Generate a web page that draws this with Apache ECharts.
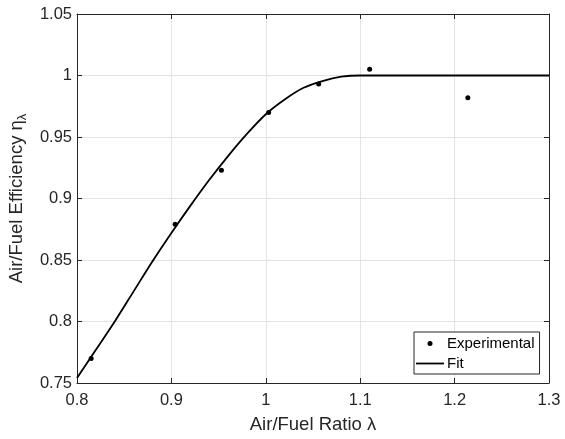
<!DOCTYPE html>
<html>
<head>
<meta charset="utf-8">
<script src="https://cdn.jsdelivr.net/npm/echarts@6/dist/echarts.min.js"></script>
<style>
html,body{margin:0;padding:0;background:#fff;}
#c{width:565px;height:439px;}
</style>
</head>
<body>
<div id="c"></div>
<script>
// Experimental data
const expX = [0.815, 0.904, 0.953, 1.003, 1.056, 1.110, 1.214];
const expY = [0.770, 0.879, 0.923, 0.970, 0.993, 1.005, 0.982];
// Fit curve
const fitX = [0.80, 0.82, 0.84, 0.86, 0.88, 0.90, 0.92, 0.94, 0.96, 0.98, 1.00, 1.02, 1.04, 1.06, 1.08, 1.10, 1.20, 1.30];
const fitY = [0.754, 0.777, 0.800, 0.8245, 0.849, 0.872, 0.894, 0.915, 0.9345, 0.9525, 0.9685, 0.9805, 0.990, 0.9955, 0.999, 1.000, 1.000, 1.000];
// Axis settings
const xMin = 0.8, xMax = 1.3, xStep = 0.1;
const yMin = 0.75, yMax = 1.05, yStep = 0.05;
const seriesNames = ['Experimental', 'Fit'];
const xTitle = 'Air/Fuel Ratio λ';
const yTitle = 'Air/Fuel Efficiency {g|η}{s|λ}';

const FONT = '"Liberation Sans", Arial, Helvetica, sans-serif';
const AX = '#262626';
const chart = echarts.init(document.getElementById('c'), null, {renderer: 'canvas'});

const baseAxis = {
  type: 'value',
  axisLine: {show: true, onZero: false, lineStyle: {color: AX, width: 1}},
  axisTick: {show: true, inside: true, length: 5, lineStyle: {color: AX, width: 1}},
};

const option = {
  backgroundColor: '#fff',
  animation: false,
  grid: {left: 77, right: 16, top: 14, bottom: 56, containLabel: false, outerBoundsMode: 'none'},
  legend: {
    orient: 'vertical',
    left: 414, top: 332,
    padding: [4, 5, 3, 2],
    itemWidth: 28, itemHeight: 5, itemGap: 5,
    borderColor: AX, borderWidth: 1, borderRadius: 0,
    backgroundColor: '#fff',
    textStyle: {fontFamily: FONT, fontSize: 15, color: '#000', lineHeight: 15, padding: [0,0,0,-2]},
    data: [
      {name: seriesNames[0], icon: 'circle'},
      {name: seriesNames[1], icon: 'path://M0 0H28V1.8H0Z'}
    ]
  },
  xAxis: [
    Object.assign({}, baseAxis, {
      min: xMin, max: xMax, interval: xStep, position: 'bottom',
      name: xTitle, nameLocation: 'middle', nameGap: 32,
      nameTextStyle: {fontFamily: FONT, fontSize: 18.5, color: AX},
      axisLabel: {show: true, margin: 9, fontFamily: FONT, fontSize: 16.5, color: AX, showMinLabel: true, showMaxLabel: true},
      splitLine: {show: true, lineStyle: {color: '#e3e3e3', width: 1}}
    }),
    Object.assign({}, baseAxis, {
      min: xMin, max: xMax, interval: xStep, position: 'top',
      axisLabel: {show: false}, splitLine: {show: false}
    })
  ],
  yAxis: [
    Object.assign({}, baseAxis, {
      min: yMin, max: yMax, interval: yStep, position: 'left',
      name: yTitle, nameLocation: 'middle', nameGap: 47,
      nameTextStyle: {fontFamily: FONT, fontSize: 18.5, color: AX, lineHeight: 24,
        rich: {
          g: {fontFamily: FONT, fontSize: 18.5, color: AX, lineHeight: 24},
          s: {fontFamily: FONT, fontSize: 13, color: AX, lineHeight: 13, verticalAlign: 'bottom'}
        }},
      axisLabel: {show: true, margin: 5, fontFamily: FONT, fontSize: 16.5, color: AX, showMinLabel: true, showMaxLabel: true},
      splitLine: {show: true, lineStyle: {color: '#e3e3e3', width: 1}}
    }),
    Object.assign({}, baseAxis, {
      min: yMin, max: yMax, interval: yStep, position: 'right',
      axisLabel: {show: false}, splitLine: {show: false}
    })
  ],
  series: [
    {
      name: seriesNames[0], type: 'scatter',
      xAxisIndex: 0, yAxisIndex: 0,
      symbol: 'circle', symbolSize: 5,
      itemStyle: {color: '#000', opacity: 1},
      data: expX.map((x, i) => [x, expY[i]]),
      z: 3
    },
    {
      name: seriesNames[1], type: 'line',
      xAxisIndex: 0, yAxisIndex: 0,
      symbol: 'none', showSymbol: false,
      smooth: 0.3,
      lineStyle: {color: '#000', width: 1.8},
      itemStyle: {color: '#000'},
      data: fitX.map((x, i) => [x, fitY[i]]),
      z: 2
    }
  ]
};
chart.setOption(option);
</script>
</body>
</html>
